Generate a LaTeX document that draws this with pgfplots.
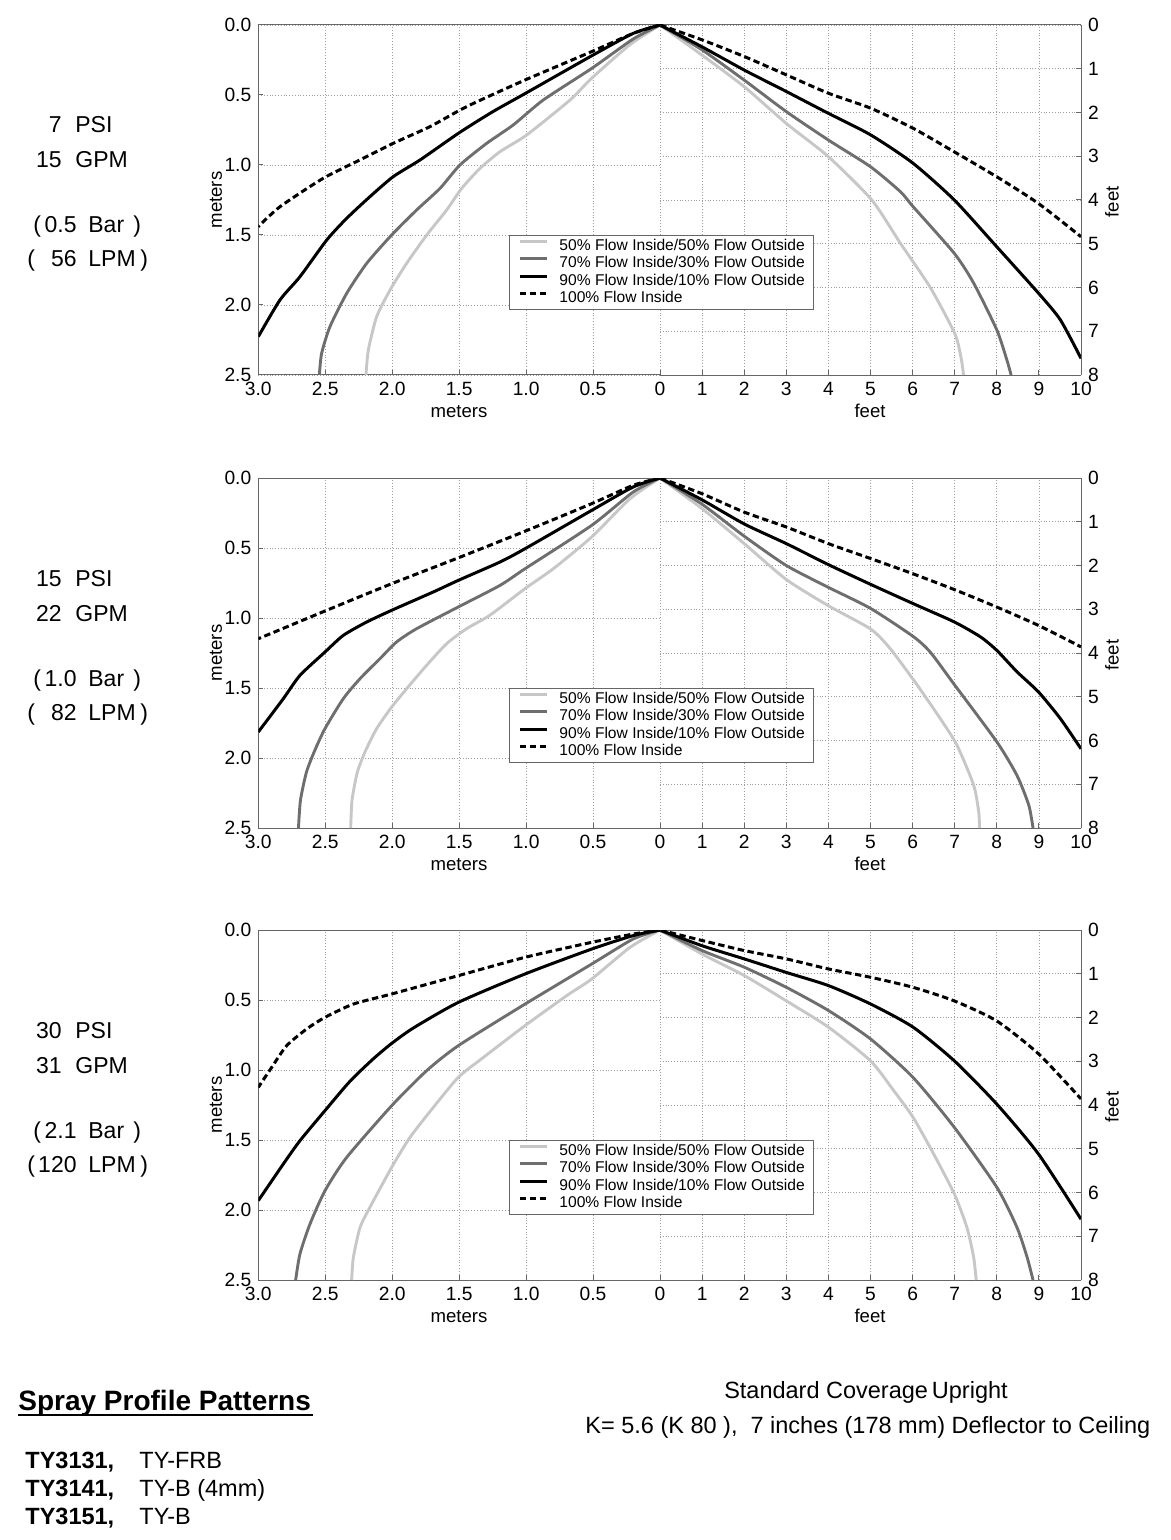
\documentclass[border=0pt]{standalone}
\usepackage{fontspec}
\setmainfont{Liberation Sans}
\usepackage{pgfplots}
\pgfplotsset{compat=1.18}

\definecolor{lgray}{gray}{0.78}
\definecolor{mgray}{gray}{0.43}
\definecolor{framegray}{gray}{0.40}
\definecolor{gridgray}{gray}{0.62}

\pgfplotsset{
  spray/.style={
    scale only axis, height=175pt, ymax=0,
    axis x line*=box,
    xtick pos=bottom,
    tick align=inside,
    major tick length=2.5pt,
    tick style={framegray, line width=0.5pt},
    axis line style={framegray, line width=0.5pt},
    grid=major,
    major grid style={gridgray, densely dotted, line width=0.4pt},
    tick label style={font=\fontsize{9.6}{10}\selectfont},
  },
  leftaxis/.style={
    spray, anchor=north west, width=200.85pt,
    xmin=-3, xmax=0, ymin=-2.5,
    axis y line*=left,
    xtick={-3,-2.5,-2,-1.5,-1,-0.5,0},
    xticklabels={3.0,2.5,2.0,1.5,1.0,0.5,0},
    ytick={-2.5,-2,-1.5,-1,-0.5,0},
    yticklabels={2.5,2.0,1.5,1.0,0.5,0.0},
    legend cell align=left,
    legend image code/.code={\draw[##1] (0pt,2.6pt) -- (13.5pt,2.6pt);},
    legend style={at={(0.624,0.4)}, anchor=north west,
      draw=framegray, line width=0.5pt, fill=white,
      font=\fontsize{7.8}{9}\selectfont,
      inner xsep=4.5pt, inner ysep=1.8pt, row sep=1.55pt,
      nodes={inner sep=0pt, text height=5.6pt, text depth=1.6pt},
      /tikz/every odd column/.append style={column sep=5.5pt}},
  },
  rightaxis/.style={
    spray, anchor=north west, width=210.5pt,
    xmin=0, xmax=10, ymin=-8,
    axis y line*=right,
    xtick={0,1,2,3,4,5,6,7,8,9,10},
    xticklabels={,1,2,3,4,5,6,7,8,9,10},
    ytick={-8,-7,-6,-5,-4,-3,-2,-1,0},
    yticklabels={8,7,6,5,4,3,2,1,0},
  },
  c50/.style={lgray, line width=1.45pt, smooth, tension=0.4},
  c70/.style={mgray, line width=1.45pt, smooth, tension=0.4},
  c90/.style={black, line width=1.5pt, smooth, tension=0.4},
  c100/.style={black, line width=1.5pt, dash pattern=on 3.2pt off 1.8pt, smooth, tension=0.4},
}

\newcommand{\sidefont}{\fontsize{11.5}{13}\selectfont}
\newcommand{\side}[5]{%
  \node[anchor=base east] at (62,#1+108) {#2};
  \node[anchor=base west] at (75,#1+108) {PSI};
  \node[anchor=base east] at (62,#1+143) {#3};
  \node[anchor=base west] at (75,#1+143) {GPM};
  \node[anchor=base west] at (33,#1+208) {(};
  \node[anchor=base east] at (77,#1+208) {#4};
  \node[anchor=base west] at (88,#1+208) {Bar};
  \node[anchor=base west] at (133,#1+208) {)};
  \node[anchor=base west] at (27,#1+242) {(};
  \node[anchor=base east] at (77,#1+242) {#5};
  \node[anchor=base west] at (88,#1+242) {LPM};
  \node[anchor=base west] at (140,#1+242) {)};
}
\newcommand{\axlabels}[1]{%
  \node[anchor=base] at (459,#1+392) {meters};
  \node[anchor=base] at (870,#1+392) {feet};
  \node[rotate=90] at (216,#1+175) {meters};
  \node[rotate=90] at (1112,#1+177) {feet};
}

\begin{document}
\begin{tikzpicture}
\useasboundingbox (0pt,0pt) rectangle (585.5pt,-770pt);

% ---------------- 7 PSI ----------------
\begin{axis}[rightaxis, at={(330pt,-12.5pt)}]
\addplot[c50] coordinates {(0,0) (1,-0.69) (2,-1.41) (3,-2.25) (4,-3.01) (5.03,-4.0) (5.71,-4.99) (6.42,-6.0) (7.0,-7.05) (7.15,-7.6) (7.21,-8.0)};
\addplot[c70] coordinates {(0,0) (1,-0.57) (2,-1.26) (3,-1.98) (4,-2.63) (5,-3.24) (5.71,-3.81) (6.01,-4.15) (6.99,-5.22) (7.45,-5.9) (8.0,-6.97) (8.24,-7.66) (8.34,-8.0)};
\addplot[c90] coordinates {(0,0) (1,-0.5) (2,-1.03) (3,-1.52) (4,-2.02) (5,-2.51) (6.01,-3.16) (6.99,-4.0) (8.0,-5.07) (8.99,-6.13) (9.51,-6.74) (10,-7.62)};
\addplot[c100] coordinates {(0,0) (1,-0.34) (2,-0.72) (3,-1.14) (4,-1.56) (5,-1.9) (6.01,-2.36) (6.99,-2.9) (8.0,-3.47) (8.99,-4.08) (10,-4.84)};
\end{axis}
\begin{axis}[leftaxis, at={(129.15pt,-12.5pt)}]
\addplot[c50] coordinates {(0,0) (-0.224,-0.14) (-0.51,-0.38) (-0.672,-0.536) (-0.996,-0.786) (-1.195,-0.905) (-1.344,-1.024) (-1.481,-1.167) (-1.593,-1.321) (-1.742,-1.5) (-1.892,-1.702) (-2.016,-1.893) (-2.116,-2.083) (-2.178,-2.321) (-2.196,-2.5)};
\addplot[c70] coordinates {(0,0) (-0.2,-0.1) (-0.51,-0.31) (-0.872,-0.536) (-1.096,-0.714) (-1.294,-0.845) (-1.494,-1.0) (-1.643,-1.167) (-1.817,-1.321) (-2.004,-1.5) (-2.19,-1.702) (-2.34,-1.917) (-2.465,-2.155) (-2.527,-2.345) (-2.544,-2.5)};
\addplot[c90] coordinates {(0,0) (-0.2,-0.06) (-0.51,-0.22) (-1.008,-0.49) (-1.25,-0.62) (-1.5,-0.77) (-1.792,-0.964) (-1.992,-1.083) (-2.166,-1.226) (-2.34,-1.381) (-2.489,-1.536) (-2.689,-1.798) (-2.838,-1.964) (-3.0,-2.226)};
\addplot[c100] coordinates {(0,0) (-0.2,-0.06) (-0.51,-0.19) (-1.008,-0.393) (-1.444,-0.583) (-1.718,-0.726) (-1.992,-0.845) (-2.216,-0.952) (-2.515,-1.095) (-2.838,-1.298) (-3.0,-1.44)};
\legend{50\% Flow Inside/50\% Flow Outside, 70\% Flow Inside/30\% Flow Outside, 90\% Flow Inside/10\% Flow Outside, 100\% Flow Inside}
\end{axis}

% ---------------- 15 PSI ----------------
\begin{axis}[rightaxis, at={(330pt,-239pt)}]
\addplot[c50] coordinates {(0,0) (1,-0.7) (2,-1.5) (3,-2.32) (4,-2.92) (5,-3.45) (5.46,-3.89) (6.1,-4.72) (6.65,-5.49) (7.05,-6.1) (7.45,-7.02) (7.57,-7.63) (7.59,-8.0)};
\addplot[c70] coordinates {(0,0) (1,-0.6) (2,-1.33) (3,-2.0) (4,-2.5) (5,-2.98) (6.01,-3.62) (6.42,-3.98) (6.99,-4.72) (8.0,-6.03) (8.48,-6.8) (8.76,-7.48) (8.86,-8.0)};
\addplot[c90] coordinates {(0,0) (1,-0.5) (2,-1.05) (3,-1.5) (4,-1.98) (5,-2.43) (6.01,-2.87) (6.99,-3.29) (7.61,-3.63) (8.0,-3.94) (8.48,-4.43) (8.99,-4.89) (9.51,-5.5) (10,-6.19)};
\addplot[c100] coordinates {(0,0) (1,-0.36) (2,-0.78) (3,-1.12) (4,-1.5) (5,-1.84) (6.01,-2.19) (6.99,-2.55) (8.0,-2.95) (8.99,-3.37) (10,-3.86)};
\end{axis}
\begin{axis}[leftaxis, at={(129.15pt,-239pt)}]
\addplot[c50] coordinates {(0,0) (-0.224,-0.148) (-0.51,-0.421) (-0.797,-0.648) (-1.008,-0.79) (-1.27,-0.98) (-1.444,-1.076) (-1.593,-1.183) (-1.743,-1.338) (-1.892,-1.505) (-2.004,-1.636) (-2.116,-1.79) (-2.2,-1.95) (-2.26,-2.1) (-2.3,-2.3) (-2.31,-2.5)};
\addplot[c70] coordinates {(0,0) (-0.2,-0.1) (-0.51,-0.338) (-1.008,-0.648) (-1.195,-0.767) (-1.506,-0.921) (-1.817,-1.076) (-1.967,-1.171) (-2.091,-1.29) (-2.24,-1.433) (-2.365,-1.576) (-2.502,-1.79) (-2.58,-1.95) (-2.64,-2.1) (-2.685,-2.3) (-2.7,-2.5)};
\addplot[c90] coordinates {(0,0) (-0.2,-0.064) (-0.51,-0.231) (-1.008,-0.505) (-1.195,-0.6) (-1.506,-0.731) (-1.693,-0.814) (-2.004,-0.945) (-2.191,-1.029) (-2.365,-1.124) (-2.502,-1.243) (-2.689,-1.41) (-2.813,-1.576) (-3.0,-1.814)};
\addplot[c100] coordinates {(0,0) (-0.2,-0.052) (-0.51,-0.183) (-1.008,-0.38) (-1.506,-0.57) (-2.004,-0.755) (-2.502,-0.95) (-3.0,-1.148)};
\legend{50\% Flow Inside/50\% Flow Outside, 70\% Flow Inside/30\% Flow Outside, 90\% Flow Inside/10\% Flow Outside, 100\% Flow Inside}
\end{axis}

% ---------------- 30 PSI ----------------
\begin{axis}[rightaxis, at={(330pt,-465pt)}]
\addplot[c50] coordinates {(0,0) (1,-0.55) (2,-1.04) (3,-1.62) (4,-2.22) (5,-2.99) (5.55,-3.67) (6.01,-4.28) (6.5,-5.12) (6.99,-6.03) (7.29,-6.8) (7.45,-7.48) (7.51,-8.0)};
\addplot[c70] coordinates {(0,0) (1,-0.47) (2,-0.85) (3,-1.31) (4,-1.84) (5,-2.49) (6.01,-3.37) (6.99,-4.51) (8.0,-5.88) (8.48,-6.8) (8.72,-7.48) (8.86,-8.0)};
\addplot[c90] coordinates {(0,0) (1,-0.36) (2,-0.66) (3,-0.97) (4,-1.27) (5,-1.69) (6.01,-2.22) (6.99,-2.99) (8.0,-3.98) (8.99,-5.12) (10,-6.61)};
\addplot[c100] coordinates {(0,0) (1,-0.24) (2,-0.47) (3,-0.66) (4,-0.89) (5,-1.08) (6.01,-1.31) (6.99,-1.62) (8.0,-2.08) (8.99,-2.83) (10,-3.86)};
\end{axis}
\begin{axis}[leftaxis, at={(129.15pt,-465pt)}]
\addplot[c50] coordinates {(0,0) (-0.224,-0.124) (-0.51,-0.35) (-0.697,-0.469) (-1.008,-0.683) (-1.319,-0.91) (-1.506,-1.052) (-1.693,-1.267) (-1.867,-1.481) (-2.004,-1.695) (-2.166,-1.98) (-2.24,-2.124) (-2.29,-2.338) (-2.303,-2.5)};
\addplot[c70] coordinates {(0,0) (-0.2,-0.064) (-0.51,-0.243) (-1.008,-0.529) (-1.506,-0.826) (-1.743,-1.005) (-2.004,-1.255) (-2.34,-1.624) (-2.502,-1.862) (-2.614,-2.1) (-2.689,-2.314) (-2.721,-2.5)};
\addplot[c90] coordinates {(0,0) (-0.2,-0.04) (-0.51,-0.136) (-1.008,-0.314) (-1.506,-0.517) (-1.842,-0.7) (-2.004,-0.81) (-2.141,-0.92) (-2.315,-1.08) (-2.502,-1.29) (-2.689,-1.505) (-2.813,-1.671) (-3.0,-1.933)};
\addplot[c100] coordinates {(0,0) (-0.2,-0.029) (-0.51,-0.088) (-1.008,-0.195) (-1.506,-0.326) (-2.004,-0.457) (-2.29,-0.529) (-2.502,-0.624) (-2.639,-0.707) (-2.788,-0.826) (-2.9,-0.981) (-3.0,-1.124)};
\legend{50\% Flow Inside/50\% Flow Outside, 70\% Flow Inside/30\% Flow Outside, 90\% Flow Inside/10\% Flow Outside, 100\% Flow Inside}
\end{axis}

% ---------------- texts (pixel coordinates) ----------------
\begin{scope}[x=0.5pt, y=-0.5pt, every node/.style={inner sep=0pt}]
  \begingroup\sidefont
  \side{25}{7}{15}{0.5}{56}
  \side{478}{15}{22}{1.0}{82}
  \side{930}{30}{31}{2.1}{120}
  \endgroup
  \begingroup\fontsize{9.3}{10}\selectfont
  \axlabels{25}
  \axlabels{478}
  \axlabels{930}
  \endgroup
  \node[anchor=base west, font=\bfseries\fontsize{14}{16}\selectfont] at (18,1410) {Spray Profile Patterns};
  \draw[line width=1.3pt] (18,1415) -- (313,1415);
  \begingroup\fontsize{11.75}{14}\selectfont
  \node[anchor=base west, font=\bfseries] at (25,1468) {TY3131,};
  \node[anchor=base west] at (139,1468) {TY-FRB};
  \node[anchor=base west, font=\bfseries] at (25,1496) {TY3141,};
  \node[anchor=base west] at (139,1496) {TY-B (4mm)};
  \node[anchor=base west, font=\bfseries] at (25,1524) {TY3151,};
  \node[anchor=base west] at (139,1524) {TY-B};
  \node[anchor=base] at (866,1398) {Standard Coverage\,Upright};
  \node[anchor=base west] at (585,1433) {K= 5.6 (K\ 80\ ),\ \ 7 inches (178 mm) Deflector to Ceiling};
  \endgroup
\end{scope}
\end{tikzpicture}
\end{document}
